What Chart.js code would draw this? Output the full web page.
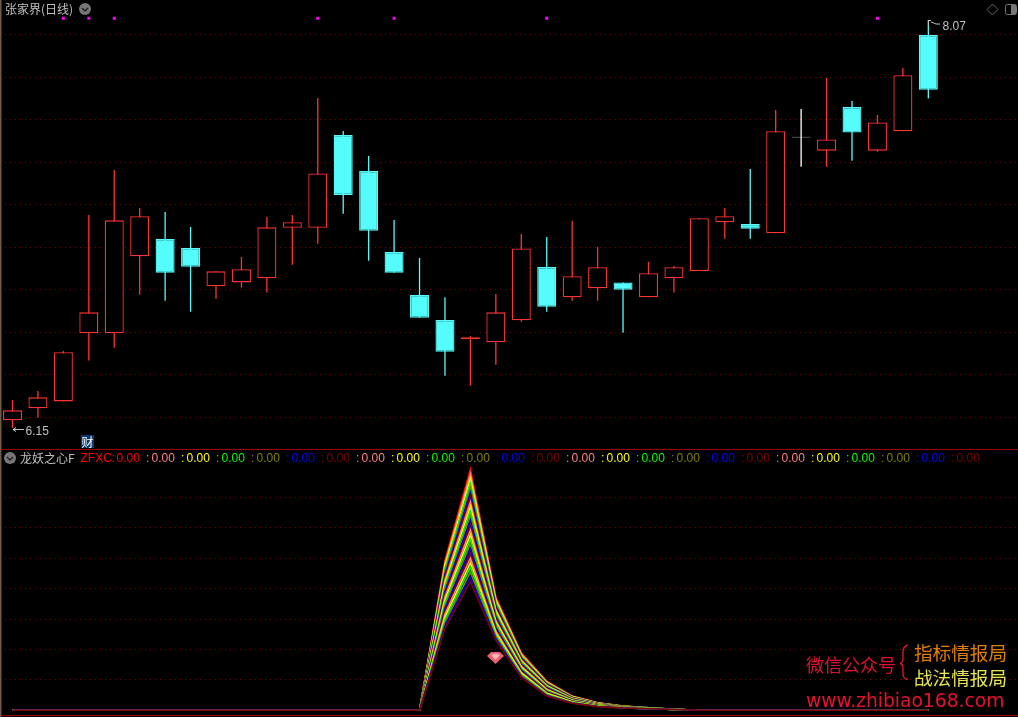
<!DOCTYPE html>
<html>
<head>
<meta charset="utf-8">
<script src="https://cdn.jsdelivr.net/npm/chart.js@4/dist/chart.umd.js"></script>
<style>
html, body { margin: 0; padding: 0; background: #000; overflow: hidden; }
#page { position: relative; width: 1018px; height: 717px; background: #000; overflow: hidden; }
canvas { position: absolute; left: 0; }
#deco { position: absolute; left: 0; top: 0; }
.t { position: absolute; white-space: nowrap; line-height: 14px; font-family: "Liberation Sans", sans-serif; font-size: 12px; color: #c0c0c0; }
.cjk { font-family: "Noto Sans CJK SC", sans-serif; }
.wm { font-family: "Noto Sans CJK SC", sans-serif; font-size: 18px; line-height: 22px; }
</style>
</head>
<body>
<div id="page">
  <canvas id="priceChart" width="1018" height="449" style="top:0"></canvas>
  <canvas id="zfxcChart" width="1018" height="267" style="top:450px"></canvas>
  <svg id="deco" width="1018" height="717">
    <rect x="0" y="0" width="1.5" height="717" fill="#6e5a46"/>
    <line x1="2" y1="449.5" x2="1018" y2="449.5" stroke="#a00000"/>
    <line x1="2" y1="715.5" x2="1018" y2="715.5" stroke="#a00000"/>
    <circle cx="85" cy="9" r="6" fill="#777"/>
    <path d="M82 8 L85 11 L88 8" fill="none" stroke="#222" stroke-width="1.5"/>
    <circle cx="10" cy="458" r="6" fill="#777"/>
    <path d="M7 457 L10 460 L13 457" fill="none" stroke="#222" stroke-width="1.5"/>
    <path d="M992.5 4 L998 9.5 L992.5 15 L987 9.5 Z" fill="none" stroke="#666"/>
    <rect x="1005.5" y="4.5" width="11" height="10" rx="2" fill="none" stroke="#777"/>
    <rect x="1011" y="5" width="5" height="9" fill="#777"/>
    <path d="M13 429.5 H24 M13 429.5 L16 427.5 M13 429.5 L16 431.5" fill="none" stroke="#c0c0c0"/>
    <path d="M928.5 25 V20.5 H931 M931 22 Q934 23 936 24 H940" fill="none" stroke="#c0c0c0"/>
    <path d="M491 652 H500 L504 656 L495.5 664 L487 656 Z" fill="#e8606c"/>
    <path d="M491 655 Q495.5 652 500 655 L495.5 660 Z" fill="#ffb0b8"/>
    <path d="M908 645 Q903 646 903 652 V658 Q903 663 900 663.5 Q903 664 903 669 V674 Q903 679 908 679.5" fill="none" stroke="#e01030" stroke-width="1.4"/>
  </svg>
  <div id="labels"></div>
</div>
<script>
// candle values
let opens  = [6.186,6.243,6.275,6.596,6.596,6.958,7.039,6.997,6.817,6.835,6.854,7.092,7.092,7.529,7.359,6.978,6.776,6.658,6.567,6.553,6.657,6.907,6.765,6.807,6.835,6.765,6.854,6.889,7.118,7.110,7.066,7.517,7.455,7.660,7.455,7.546,7.999];
let closes = [6.233,6.294,6.506,6.694,7.127,7.146,6.881,6.909,6.887,6.897,7.094,7.118,7.348,7.246,7.078,6.881,6.669,6.509,6.577,6.694,6.995,6.721,6.864,6.906,6.801,6.878,6.906,7.137,7.146,7.088,7.546,7.521,7.508,7.540,7.588,7.810,7.742];
let highs  = [6.282,6.324,6.512,7.152,7.364,7.185,7.166,7.096,6.887,6.955,7.143,7.152,7.703,7.548,7.430,7.129,6.950,6.765,6.583,6.780,7.063,7.049,7.124,7.002,6.835,6.931,6.912,7.137,7.185,7.369,7.646,7.651,7.797,7.689,7.623,7.844,8.070];
let lows   = [6.150,6.198,6.275,6.467,6.528,6.777,6.749,6.697,6.758,6.810,6.787,6.918,7.017,7.158,6.937,6.881,6.669,6.396,6.349,6.448,6.650,6.697,6.749,6.749,6.598,6.765,6.787,6.889,7.041,7.041,7.066,7.379,7.379,7.408,7.450,7.546,7.700];
let signalBars = [2, 3, 4, 12, 15, 21, 34];
let signalPrice = 8.078;
let priceTicks = [6.2, 6.4, 6.6, 6.8, 7.0, 7.2, 7.4, 7.6, 7.8, 8.0];

// ZFXC rainbow lines, bars 17 to 26, zero everywhere else
let zfxc01 = [49.4,79.3,37.3,18.9,9.6,4.7,2.5,1.4,.86,.33];
let zfxc02 = [48.5,77.8,36.7,18.6,9.4,4.6,2.45,1.37,.85,.33];
let zfxc03 = [47.5,76.2,36.1,18.2,9.2,4.5,2.39,1.35,.83,.32];
let zfxc04 = [46.6,74.7,35.5,17.9,9.0,4.4,2.34,1.32,.82,.32];
let zfxc05 = [45.7,73.1,34.9,17.6,8.8,4.3,2.28,1.29,.80,.32];
let zfxc06 = [44.7,71.6,34.3,17.2,8.6,4.2,2.23,1.27,.79,.31];
let zfxc07 = [43.8,70.1,33.7,16.9,8.4,4.1,2.18,1.24,.77,.31];
let zfxc08 = [42.9,68.5,33.1,16.5,8.2,4.0,2.12,1.21,.76,.31];
let zfxc09 = [41.9,67.0,32.5,16.2,8.0,3.9,2.07,1.18,.74,.31];
let zfxc10 = [41.0,65.4,31.9,15.9,7.8,3.8,2.01,1.16,.73,.30];
let zfxc11 = [40.1,63.9,31.3,15.5,7.6,3.7,1.96,1.13,.71,.30];
let zfxc12 = [39.1,62.4,30.7,15.2,7.4,3.6,1.91,1.10,.70,.30];
let zfxc13 = [38.2,60.8,30.1,14.9,7.2,3.5,1.85,1.08,.68,.29];
let zfxc14 = [37.3,59.3,29.5,14.5,6.9,3.4,1.80,1.05,.67,.29];
let zfxc15 = [36.3,57.7,29.0,14.2,6.7,3.3,1.74,1.02,.65,.29];
let zfxc16 = [35.4,56.2,28.4,13.8,6.5,3.2,1.69,.99,.64,.28];
let zfxc17 = [34.5,54.7,27.8,13.5,6.3,3.1,1.64,.97,.62,.28];
let zfxc18 = [33.5,53.1,27.2,13.2,6.1,3.0,1.58,.94,.61,.28];
let zfxc19 = [32.6,51.6,26.6,12.8,5.9,2.9,1.53,.91,.59,.27];
let zfxc20 = [31.7,50.0,26.0,12.5,5.7,2.8,1.47,.89,.58,.27];
let zfxc21 = [30.7,48.5,25.4,12.2,5.5,2.7,1.42,.86,.56,.27];
let zfxc22 = [29.8,47.0,24.8,11.8,5.3,2.6,1.37,.83,.55,.26];
let zfxc23 = [28.9,45.4,24.2,11.5,5.1,2.5,1.31,.81,.53,.26];
let zfxc24 = [27.9,43.9,23.6,11.1,4.9,2.4,1.26,.78,.52,.25];
let zfxc25 = [27.0,42.3,23.0,10.8,4.7,2.3,1.20,.75,.50,.25];
let zfxcLines = [zfxc01,zfxc02,zfxc03,zfxc04,zfxc05,zfxc06,zfxc07,zfxc08,zfxc09,zfxc10,zfxc11,zfxc12,zfxc13,zfxc14,zfxc15,zfxc16,zfxc17,zfxc18,zfxc19,zfxc20,zfxc21,zfxc22,zfxc23,zfxc24,zfxc25];
let zfxcFirstBar = 17;
let zfxcTicks = [10, 20, 30, 40, 50, 60, 70];
let zfxcReadout = '0.00';

let rainbow = ['#ff8080', '#ffff00', '#00ff00', '#808000', '#0000ff', '#800000'];
let lineColor = i => i == 0 ? '#ff0000' : rainbow[(i - 1) % 6];

const RED = '#ff3232', CYAN = '#54fcfc', GRID = '#800000';

let candleColor = i => {
	if (Math.abs(closes[i] - opens[i]) < 0.005) return '#ffffff';
	return closes[i] > opens[i] ? RED : CYAN;
};
let bars = opens.map((o, i) => i);

// both panels share this x range so the bars line up with the indicator
let xScale = { type: 'linear', display: false, offset: false, min: -0.491, max: 39.525 };

function yScale(min, max, tickValues) {
	return {
		min: min,
		max: max,
		afterBuildTicks: scale => { scale.ticks = tickValues.map(v => ({ value: v })); },
		ticks: { display: false },
		border: { display: false, dash: [1, 4] },
		grid: { color: GRID, drawTicks: false, lineWidth: 1 }
	};
}

let baseOptions = {
	responsive: false,
	animation: false,
	layout: { padding: 0, autoPadding: false },
	plugins: { legend: { display: false }, tooltip: { enabled: false } }
};

new Chart(document.getElementById('priceChart').getContext('2d'), {
	type: 'bar',
	data: {
		datasets: [
			{
				label: 'body',
				order: 1,
				grouped: false,
				barThickness: 19,
				borderWidth: 1.3,
				borderSkipped: false,
				inflateAmount: 0,
				borderColor: bars.map(candleColor),
				backgroundColor: bars.map(i => candleColor(i) == RED ? '#000000' : candleColor(i)),
				data: bars.map(i => ({ x: i, y: [opens[i], closes[i]] }))
			},
			{
				label: 'wick',
				order: 2,
				grouped: false,
				barThickness: 1.3,
				borderWidth: 0,
				inflateAmount: 0,
				backgroundColor: bars.map(candleColor),
				data: bars.map(i => ({ x: i, y: [lows[i], highs[i]] }))
			},
			{
				type: 'line',
				label: 'signal',
				order: 0,
				showLine: false,
				pointStyle: 'rect',
				pointRadius: 2.1,
				pointBorderWidth: 0,
				pointBackgroundColor: '#ff00ff',
				data: signalBars.map(b => ({ x: b, y: signalPrice }))
			}
		]
	},
	options: Object.assign({}, baseOptions, {
		scales: { x: xScale, y: yScale(6.051, 8.164, priceTicks) }
	})
});

new Chart(document.getElementById('zfxcChart').getContext('2d'), {
	type: 'line',
	data: {
		datasets: zfxcLines.map((line, n) => ({
			label: 'ZFXC' + n,
			order: zfxcLines.length - n,
			borderColor: lineColor(n),
			borderWidth: 1.6,
			pointRadius: 0,
			tension: 0,
			data: bars.map(i => ({ x: i, y: line[i - zfxcFirstBar] || 0 }))
		}))
	},
	options: Object.assign({}, baseOptions, {
		scales: { x: xScale, y: yScale(-2.2, 85.6, zfxcTicks) }
	})
});

// all text is plain DOM on top of the canvases
let labels = document.getElementById('labels');
function addText(text, x, y, color, cls, extra) {
	let d = document.createElement('div');
	d.className = 't ' + (cls || '');
	d.textContent = text;
	d.style.left = x + 'px';
	d.style.top = y + 'px';
	if (color) d.style.color = color;
	if (extra) Object.assign(d.style, extra);
	labels.appendChild(d);
}

addText('张家界(日线)', 5, 2, '#c0c0c0', 'cjk');
addText('6.15', 25.5, 424, '#c0c0c0');
addText('8.07', 942.5, 19, '#c0c0c0');
addText('财', 81, 435, '#ffffff', 'cjk', { background: '#0a3a6e', width: '13px', height: '13px', textAlign: 'center', lineHeight: '13px' });
addText('龙妖之心F', 20, 451, '#c0c0c0', 'cjk');
addText('ZFXC:', 80.5, 451, '#ff0000');
zfxcLines.forEach((line, n) => {
	let x = 116.5 + n * 35;
	addText(zfxcReadout, x, 451, lineColor(n));
	if (n > 0) addText(':', x - 5.5, 451, lineColor(n));
});

addText('微信公众号', 806, 653, '#e01030', 'wm');
addText('指标情报局', 914, 641, '#e08000', 'wm', { fontSize: '18.6px' });
addText('战法情报局', 914, 666, '#e6e650', 'wm', { fontSize: '18.6px' });
addText('www.zhibiao168.com', 806, 690, '#e8102c', 'wm', { fontFamily: '"DejaVu Sans", sans-serif', fontSize: '18.7px' });
</script>
</body>
</html>
